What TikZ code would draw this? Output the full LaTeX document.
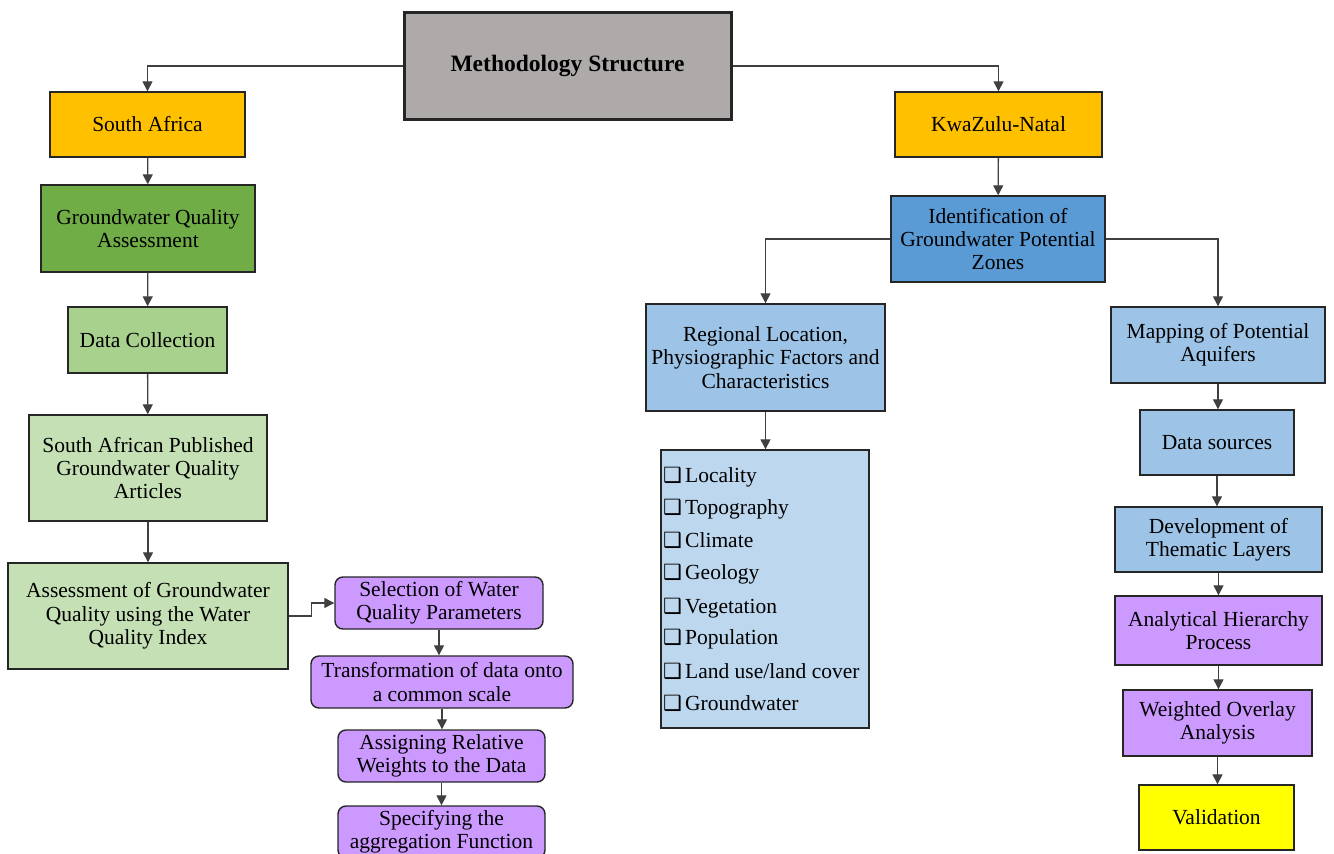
\documentclass[tikz,border=0pt]{standalone}
\usepackage{fontspec}
\setmainfont{Liberation Serif}
\newfontfamily\tnr{Liberation Serif}
\newfontfamily\symfont{DejaVu Sans}
\usetikzlibrary{arrows.meta}

\definecolor{msgray}{HTML}{AEAAAA}
\definecolor{gold}{HTML}{FFC000}
\definecolor{greenA}{HTML}{70AD47}
\definecolor{greenB}{HTML}{A9D18E}
\definecolor{greenC}{HTML}{C5E0B4}
\definecolor{violet}{HTML}{CC99FF}
\definecolor{blueA}{HTML}{5B9BD5}
\definecolor{blueB}{HTML}{9DC3E6}
\definecolor{blueC}{HTML}{BDD7EE}
\definecolor{lemon}{HTML}{FFFF00}

% shadowed check box in front of each list entry
\newcommand{\chk}{\makebox[22pt][l]{\symfont\fontsize{21}{21}\selectfont ❑}}

\begin{document}
\begin{tikzpicture}[x=1pt,y=-1pt,
  txt/.style={font=\tnr\fontsize{21.5}{23.4}\selectfont},
  box/.style={txt, draw=black!85, line width=1.4pt, align=center, inner sep=0pt},
  rbox/.style={box, rounded corners=8pt},
  link/.style={draw=black!75, line width=1.3pt,
    -{Triangle[length=10pt,width=10pt]}},
  item/.style={txt, anchor=base west, inner sep=0pt}
]
\clip (0,0) rectangle (1334,854);
\useasboundingbox (0,0) rectangle (1334,854);

% root
\node[box, line width=3pt, fill=msgray, minimum width=327pt, minimum height=107pt,
  font=\tnr\fontsize{23.5}{25}\selectfont\bfseries] (ms) at (567.5,66) {Methodology Structure};

% left branch: South Africa
\node[box, fill=gold, minimum width=195pt, minimum height=65pt] (sa) at (147.5,124.5) {South Africa};
\node[box, fill=greenA, minimum width=214pt, minimum height=87pt] (gqa) at (148,228.5) {Groundwater Quality\\Assessment};
\node[box, fill=greenB, minimum width=159pt, minimum height=66pt] (dc) at (147.5,340) {Data Collection};
\node[box, fill=greenC, minimum width=238pt, minimum height=106pt] (sap) at (148,468) {South African Published\\Groundwater Quality\\Articles};
\node[box, fill=greenC, minimum width=280pt, minimum height=106pt] (awq) at (148,616) {Assessment of Groundwater\\Quality using the Water\\Quality Index};

% water quality index steps
\node[rbox, fill=violet, minimum width=208pt, minimum height=52pt] (sel) at (439,603) {Selection of Water\\Quality Parameters};
\node[rbox, fill=violet, minimum width=262pt, minimum height=52pt] (tra) at (442,682) {Transformation of data onto\\a common scale};
\node[rbox, fill=violet, minimum width=207pt, minimum height=52pt] (asg) at (441.5,756) {Assigning Relative\\Weights to the Data};
\node[rbox, fill=violet, minimum width=207pt, minimum height=52pt] (spe) at (441.5,832) {Specifying the\\aggregation Function};

% right branch: KwaZulu-Natal
\node[box, fill=gold, minimum width=207pt, minimum height=65pt] (kzn) at (998.5,124.5) {KwaZulu-Natal};
\node[box, fill=blueA, minimum width=214pt, minimum height=86pt] (idg) at (998,239) {Identification of\\Groundwater Potential\\Zones};
\node[box, fill=blueB, minimum width=239pt, minimum height=107pt] (reg) at (765.5,357.5) {Regional Location,\\Physiographic Factors and\\Characteristics};
\node[box, fill=blueC, minimum width=208pt, minimum height=278pt] (lst) at (765,589) {};

\node[item] (l1) at (663,482) {\chk Locality};
\node[item] (l2) at (663,514) {\chk Topography};
\node[item] (l3) at (663,547) {\chk Climate};
\node[item] (l4) at (663,579) {\chk Geology};
\node[item] (l5) at (663,613) {\chk Vegetation};
\node[item] (l6) at (663,644) {\chk Population};
\node[item] (l7) at (663,678) {\chk Land use/land cover};
\node[item] (l8) at (663,710) {\chk Groundwater};

\node[box, fill=blueB, minimum width=214pt, minimum height=76pt] (map) at (1218,345) {Mapping of Potential\\Aquifers};
\node[box, fill=blueB, minimum width=154pt, minimum height=65pt] (dsr) at (1217,442.5) {Data sources};
\node[box, fill=blueB, minimum width=207pt, minimum height=65pt] (dev) at (1218.5,539.5) {Development of\\Thematic Layers};
\node[box, fill=violet, minimum width=207pt, minimum height=69pt] (ahp) at (1218.5,630.5) {Analytical Hierarchy\\Process};
\node[box, fill=violet, minimum width=189pt, minimum height=66pt] (woa) at (1217.5,723) {Weighted Overlay\\Analysis};
\node[box, fill=lemon, minimum width=155pt, minimum height=65pt] (val) at (1216.5,817.5) {Validation};

% connectors
\draw[link] (ms.west) -| (sa.north);
\draw[link] (ms.east) -| (kzn.north);
\draw[link] (sa) -- (gqa);
\draw[link] (gqa) -- (dc);
\draw[link] (dc) -- (sap);
\draw[link] (sap) -- (awq);
\draw[link] (awq.east) -- ++(23,0) |- (sel.west);
\draw[link] (sel.south) -- (sel.south |- tra.north);
\draw[link] (tra.south) -- (tra.south |- asg.north);
\draw[link] (asg) -- (spe);

\draw[link] (kzn) -- (idg);
\draw[link] (idg.west) -| (reg.north);
\draw[link] (idg.east) -| (map.north);
\draw[link] (reg.south) -- (reg.south |- lst.north);
\draw[link] (map.south) -- (map.south |- dsr.north);
\draw[link] (dsr.south) -- (dsr.south |- dev.north);
\draw[link] (dev) -- (ahp);
\draw[link] (ahp.south) -- (ahp.south |- woa.north);
\draw[link] (woa.south) -- (woa.south |- val.north);
\end{tikzpicture}
\end{document}
